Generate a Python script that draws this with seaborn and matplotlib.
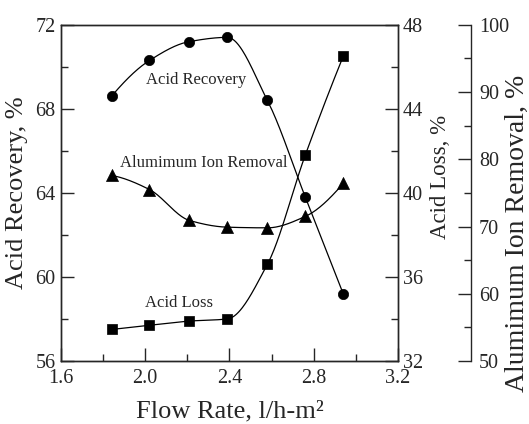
import numpy as np
import pandas as pd
import matplotlib
matplotlib.use("Agg")
import matplotlib.pyplot as plt
import seaborn as sns
from matplotlib.ticker import MultipleLocator

# values
flow_rate = [1.84, 2.02, 2.21, 2.39, 2.58, 2.76, 2.94]
acid_recovery = [68.6, 70.3, 71.2, 71.4, 68.4, 63.8, 59.2]
acid_loss = [33.5, 33.7, 33.9, 34.0, 36.6, 41.8, 46.5]
al_removal = [77.6, 75.5, 70.9, 69.9, 69.8, 71.5, 76.4]


def smooth_curve(x, y, n=40):
    # monotone cubic (pchip) path through the measured points, for drawing only
    x = np.asarray(x, float)
    y = np.asarray(y, float)
    h = np.diff(x)
    d = np.diff(y) / h
    m = np.zeros_like(y)
    for k in range(1, len(x) - 1):
        if d[k - 1] * d[k] > 0:
            w1 = 2 * h[k] + h[k - 1]
            w2 = h[k] + 2 * h[k - 1]
            m[k] = (w1 + w2) / (w1 / d[k - 1] + w2 / d[k])
    for i, (a, b, ha, hb) in {0: (d[0], d[1], h[0], h[1]),
                              len(x) - 1: (d[-1], d[-2], h[-1], h[-2])}.items():
        e = ((2 * ha + hb) * a - ha * b) / (ha + hb)
        if np.sign(e) != np.sign(a):
            e = 0.0
        elif np.sign(a) != np.sign(b) and abs(e) > abs(3 * a):
            e = 3 * a
        m[i] = e
    xs, ys = [], []
    for k in range(len(x) - 1):
        t = np.linspace(0, 1, n, endpoint=(k == len(x) - 2))
        h00 = 2 * t**3 - 3 * t**2 + 1
        h10 = t**3 - 2 * t**2 + t
        h01 = -2 * t**3 + 3 * t**2
        h11 = t**3 - t**2
        xs.append(x[k] + t * h[k])
        ys.append(h00 * y[k] + h10 * h[k] * m[k] + h01 * y[k + 1] + h11 * h[k] * m[k + 1])
    return pd.DataFrame({"x": np.concatenate(xs), "y": np.concatenate(ys)})


sns.set_style("ticks")
plt.rcParams['font.family'] = ['Liberation Serif', 'DejaVu Serif']
plt.rcParams['axes.linewidth'] = 1.0

fig = plt.figure(figsize=(5.29, 4.24), dpi=100)
ax1 = fig.add_axes([0.1153, 0.1486, 0.637, 0.793])
ax2 = ax1.twinx()
ax3 = ax1.twinx()

series = [
    (ax1, acid_recovery, 'o', 55),
    (ax2, acid_loss, 's', 50),
    (ax3, al_removal, '^', 75),
]
for ax, vals, mk, size in series:
    curve = smooth_curve(flow_rate, vals)
    sns.lineplot(data=curve, x="x", y="y", ax=ax, color='black', lw=0.9,
                 sort=False, estimator=None)
    sns.scatterplot(x=flow_rate, y=vals, ax=ax, marker=mk, s=size,
                    color='black', edgecolor='black', linewidth=0.5, zorder=3)

# --- primary axis ---
ax1.set_xlim(1.6, 3.2)
ax1.set_ylim(56, 72)
ax1.xaxis.set_major_locator(MultipleLocator(0.4))
ax1.xaxis.set_minor_locator(MultipleLocator(0.2))
ax1.yaxis.set_major_locator(MultipleLocator(4))
ax1.yaxis.set_minor_locator(MultipleLocator(2))
ax1.xaxis.set_major_formatter(matplotlib.ticker.FormatStrFormatter('%.1f'))
ax1.tick_params(which='major', direction='in', length=9.5, width=1, labelsize=14.5, pad=4)
ax1.tick_params(which='minor', direction='in', length=5, width=1)
ax1.tick_params(axis='x', pad=6)
ax1.tick_params(top=False, right=False, which='both')
ax1.set_xlabel("Flow Rate, l/h-m²", fontsize=19, labelpad=9)
ax1.set_ylabel("Acid Recovery, %", fontsize=19, labelpad=5)

# --- acid loss axis ---
ax2.set_ylim(32, 48)
ax2.yaxis.set_major_locator(MultipleLocator(4))
ax2.yaxis.set_minor_locator(MultipleLocator(2))
ax2.tick_params(which='major', direction='in', length=9.5, width=1, labelsize=14.5, pad=3.6)
ax2.tick_params(which='minor', direction='in', length=5, width=1)
ax2.set_ylabel("Acid Loss, %", fontsize=16.5)
ax2.yaxis.set_label_coords(1.095, 0.547)

# --- aluminium ion removal axis ---
ax3.set_ylim(50, 100)
ax3.spines['right'].set_position(('axes', 1.2157))
for s in ['top', 'left', 'bottom']:
    ax3.spines[s].set_visible(False)
ax3.yaxis.set_major_locator(MultipleLocator(10))
ax3.yaxis.set_minor_locator(MultipleLocator(5))
ax3.tick_params(which='major', direction='in', length=9.5, width=1, labelsize=14.5, pad=6)
ax3.tick_params(which='minor', direction='in', length=5, width=1)
ax3.set_ylabel("Alumimum Ion Removal, %", fontsize=20)
ax3.yaxis.set_label_coords(1.316, 0.38)

# curve labels
ax1.text(2.002, 69.37, "Acid Recovery", fontsize=12, va='center', ha='left')
ax1.text(1.880, 65.41, "Alumimum Ion Removal", fontsize=12, va='center', ha='left')
ax1.text(1.999, 58.74, "Acid Loss", fontsize=12, va='center', ha='left')

fig.savefig("out.png", dpi=100)
